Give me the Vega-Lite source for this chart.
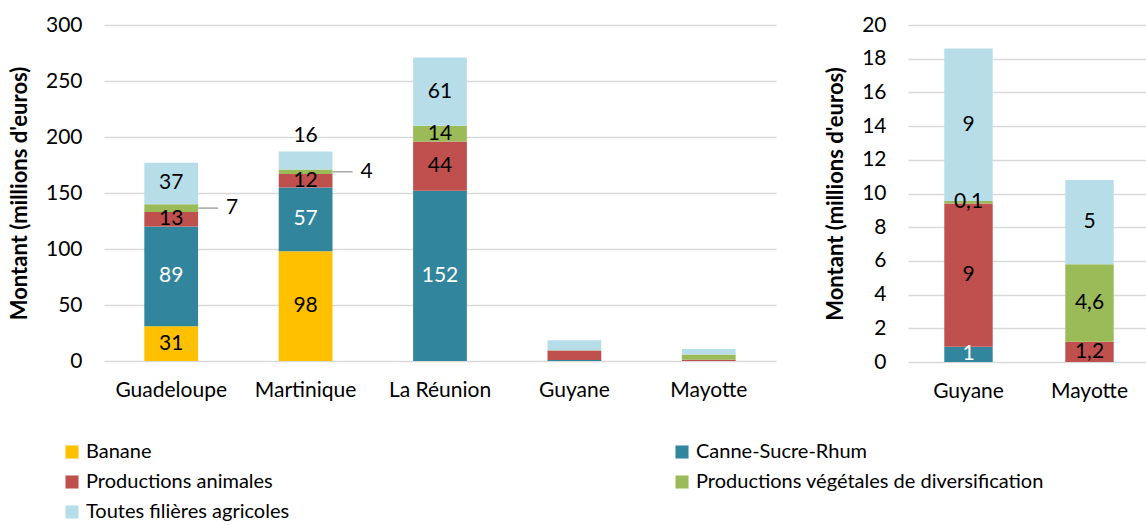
{
  "$schema": "https://vega.github.io/schema/vega-lite/v6.json",
  "autosize": {"type": "pad"},
  "padding": {"left": 8, "top": 14, "right": 0, "bottom": 0},
  "config": {
    "font": "Lato",
    "view": {"stroke": null},
    "axis": {
      "labelFont": "Lato", "labelFontSize": 21, "labelColor": "#000000", "labelOverlap": false,
      "titleFont": "Lato", "titleFontSize": 22, "titleFontWeight": "bold", "titleColor": "#000000",
      "domain": false, "ticks": false, "gridColor": "#D9D9D9", "gridWidth": 1.5
    },
    "text": {"font": "Lato", "fontSize": 21}
  },
  "datasets": {
    "d": [
      {"region": "Guadeloupe", "filiere": "Banane", "montant": 31, "libelle": "31"},
      {"region": "Guadeloupe", "filiere": "Canne-Sucre-Rhum", "montant": 89, "libelle": "89"},
      {"region": "Guadeloupe", "filiere": "Productions animales", "montant": 13, "libelle": "13"},
      {"region": "Guadeloupe", "filiere": "Productions végétales de diversification", "montant": 7, "libelle": "7"},
      {"region": "Guadeloupe", "filiere": "Toutes filières agricoles", "montant": 37, "libelle": "37"},
      {"region": "Martinique", "filiere": "Banane", "montant": 98, "libelle": "98"},
      {"region": "Martinique", "filiere": "Canne-Sucre-Rhum", "montant": 57, "libelle": "57"},
      {"region": "Martinique", "filiere": "Productions animales", "montant": 12, "libelle": "12"},
      {"region": "Martinique", "filiere": "Productions végétales de diversification", "montant": 4, "libelle": "4"},
      {"region": "Martinique", "filiere": "Toutes filières agricoles", "montant": 16, "libelle": "16"},
      {"region": "La Réunion", "filiere": "Canne-Sucre-Rhum", "montant": 152, "libelle": "152"},
      {"region": "La Réunion", "filiere": "Productions animales", "montant": 44, "libelle": "44"},
      {"region": "La Réunion", "filiere": "Productions végétales de diversification", "montant": 14, "libelle": "14"},
      {"region": "La Réunion", "filiere": "Toutes filières agricoles", "montant": 61, "libelle": "61"},
      {"region": "Guyane", "filiere": "Canne-Sucre-Rhum", "montant": 0.9, "libelle": "1"},
      {"region": "Guyane", "filiere": "Productions animales", "montant": 8.5, "libelle": "9"},
      {"region": "Guyane", "filiere": "Productions végétales de diversification", "montant": 0.15, "libelle": "0,1"},
      {"region": "Guyane", "filiere": "Toutes filières agricoles", "montant": 9.05, "libelle": "9"},
      {"region": "Mayotte", "filiere": "Productions animales", "montant": 1.2, "libelle": "1,2"},
      {"region": "Mayotte", "filiere": "Productions végétales de diversification", "montant": 4.6, "libelle": "4,6"},
      {"region": "Mayotte", "filiere": "Toutes filières agricoles", "montant": 5.0, "libelle": "5"}
    ]
  },
  "spacing": 48,
  "hconcat": [
    {
      "width": 672,
      "height": 336,
      "data": {"name": "d"},
      "transform": [
        {"stack": "montant", "groupby": ["region"], "sort": [{"field": "filiere", "order": "ascending"}], "as": ["y0", "y1"]},
        {"calculate": "(datum.y0 + datum.y1) / 2", "as": "ym"}
      ],
      "encoding": {
        "x": {
          "field": "region", "type": "nominal",
          "sort": ["Guadeloupe", "Martinique", "La Réunion", "Guyane", "Mayotte"],
          "scale": {"paddingInner": 0.6, "paddingOuter": 0.3},
          "axis": {"title": null, "labelAngle": 0, "labelPadding": 18}
        }
      },
      "layer": [
        {
          "mark": {"type": "bar"},
          "encoding": {
            "y": {
              "field": "y1", "type": "quantitative", "title": "Montant (millions d'euros)",
              "scale": {"domain": [0, 300]},
              "axis": {"values": [0, 50, 100, 150, 200, 250, 300], "tickCount": 7, "labelPadding": 22, "titlePadding": 14}
            },
            "y2": {"field": "y0"},
            "color": {
              "field": "filiere", "type": "nominal",
              "scale": {
                "domain": ["Banane", "Canne-Sucre-Rhum", "Productions animales", "Productions végétales de diversification", "Toutes filières agricoles"],
                "range": ["#FFC000", "#31859C", "#C0504D", "#9BBB59", "#B7DEE8"]
              },
              "legend": {
                "orient": "none", "legendX": -42, "legendY": 417, "direction": "horizontal", "columns": 2, "columnPadding": 382,
                "title": null, "symbolType": "square", "symbolSize": 170, "symbolStrokeWidth": 0,
                "labelFont": "Lato", "labelFontSize": 20, "labelColor": "#000000", "rowPadding": 10, "labelLimit": 500
              }
            }
          }
        },
        {
          "transform": [
            {"filter": "indexof(['Guadeloupe','Martinique','La Réunion'], datum.region) >= 0 && !((datum.region === 'Guadeloupe' || datum.region === 'Martinique') && datum.filiere === 'Productions végétales de diversification') && !(datum.region === 'Martinique' && datum.filiere === 'Toutes filières agricoles')"}
          ],
          "mark": {"type": "text", "align": "center", "baseline": "middle"},
          "encoding": {
            "y": {"field": "ym", "type": "quantitative", "title": "Montant (millions d'euros)"},
            "text": {"field": "libelle"},
            "color": {"condition": {"test": "datum.filiere === 'Canne-Sucre-Rhum'", "value": "#FFFFFF"}, "value": "#000000"}
          }
        },
        {
          "transform": [
            {"filter": "(datum.region === 'Guadeloupe' || datum.region === 'Martinique') && datum.filiere === 'Productions végétales de diversification'"}
          ],
          "mark": {"type": "rule", "xOffset": 27, "x2Offset": 47, "color": "#A6A6A6", "strokeWidth": 1.5},
          "encoding": {
            "x2": {"field": "region"},
            "y": {"field": "ym", "type": "quantitative", "title": "Montant (millions d'euros)"}
          }
        },
        {
          "transform": [
            {"filter": "(datum.region === 'Guadeloupe' || datum.region === 'Martinique') && datum.filiere === 'Productions végétales de diversification'"}
          ],
          "mark": {"type": "text", "align": "center", "baseline": "middle", "dx": 61, "color": "#000000"},
          "encoding": {
            "y": {"field": "ym", "type": "quantitative", "title": "Montant (millions d'euros)"},
            "text": {"field": "libelle"}
          }
        },
        {
          "transform": [
            {"filter": "datum.region === 'Martinique' && datum.filiere === 'Toutes filières agricoles'"}
          ],
          "mark": {"type": "text", "align": "center", "baseline": "bottom", "dy": -6, "color": "#000000"},
          "encoding": {
            "y": {"field": "y1", "type": "quantitative", "title": "Montant (millions d'euros)"},
            "text": {"field": "libelle"}
          }
        }
      ]
    },
    {
      "width": 242,
      "height": 337,
      "data": {"name": "d"},
      "transform": [
        {"filter": "datum.region === 'Guyane' || datum.region === 'Mayotte'"},
        {"stack": "montant", "groupby": ["region"], "sort": [{"field": "filiere", "order": "ascending"}], "as": ["y0", "y1"]},
        {"calculate": "(datum.y0 + datum.y1) / 2", "as": "ym"}
      ],
      "encoding": {
        "x": {
          "field": "region", "type": "nominal",
          "sort": ["Guyane", "Mayotte"],
          "scale": {"paddingInner": 0.6, "paddingOuter": 0.3},
          "axis": {"title": null, "labelAngle": 0, "labelPadding": 18}
        }
      },
      "layer": [
        {
          "mark": {"type": "bar"},
          "encoding": {
            "y": {
              "field": "y1", "type": "quantitative", "title": "Montant (millions d'euros)",
              "scale": {"domain": [0, 20]},
              "axis": {"values": [0, 2, 4, 6, 8, 10, 12, 14, 16, 18, 20], "tickCount": 11, "labelOverlap": false, "labelPadding": 22, "titlePadding": 14}
            },
            "y2": {"field": "y0"},
            "color": {
              "field": "filiere", "type": "nominal",
              "scale": {
                "domain": ["Banane", "Canne-Sucre-Rhum", "Productions animales", "Productions végétales de diversification", "Toutes filières agricoles"],
                "range": ["#FFC000", "#31859C", "#C0504D", "#9BBB59", "#B7DEE8"]
              },
              "legend": {
                "orient": "none", "legendX": -42, "legendY": 417, "direction": "horizontal", "columns": 2, "columnPadding": 382,
                "title": null, "symbolType": "square", "symbolSize": 170, "symbolStrokeWidth": 0,
                "labelFont": "Lato", "labelFontSize": 20, "labelColor": "#000000", "rowPadding": 10, "labelLimit": 500
              }
            }
          }
        },
        {
          "mark": {"type": "text", "align": "center", "baseline": "middle"},
          "encoding": {
            "y": {"field": "ym", "type": "quantitative", "title": "Montant (millions d'euros)"},
            "text": {"field": "libelle"},
            "color": {"condition": {"test": "datum.filiere === 'Canne-Sucre-Rhum'", "value": "#FFFFFF"}, "value": "#000000"}
          }
        }
      ]
    }
  ],
  "resolve": {"scale": {"color": "shared", "y": "independent", "x": "independent"}}
}
